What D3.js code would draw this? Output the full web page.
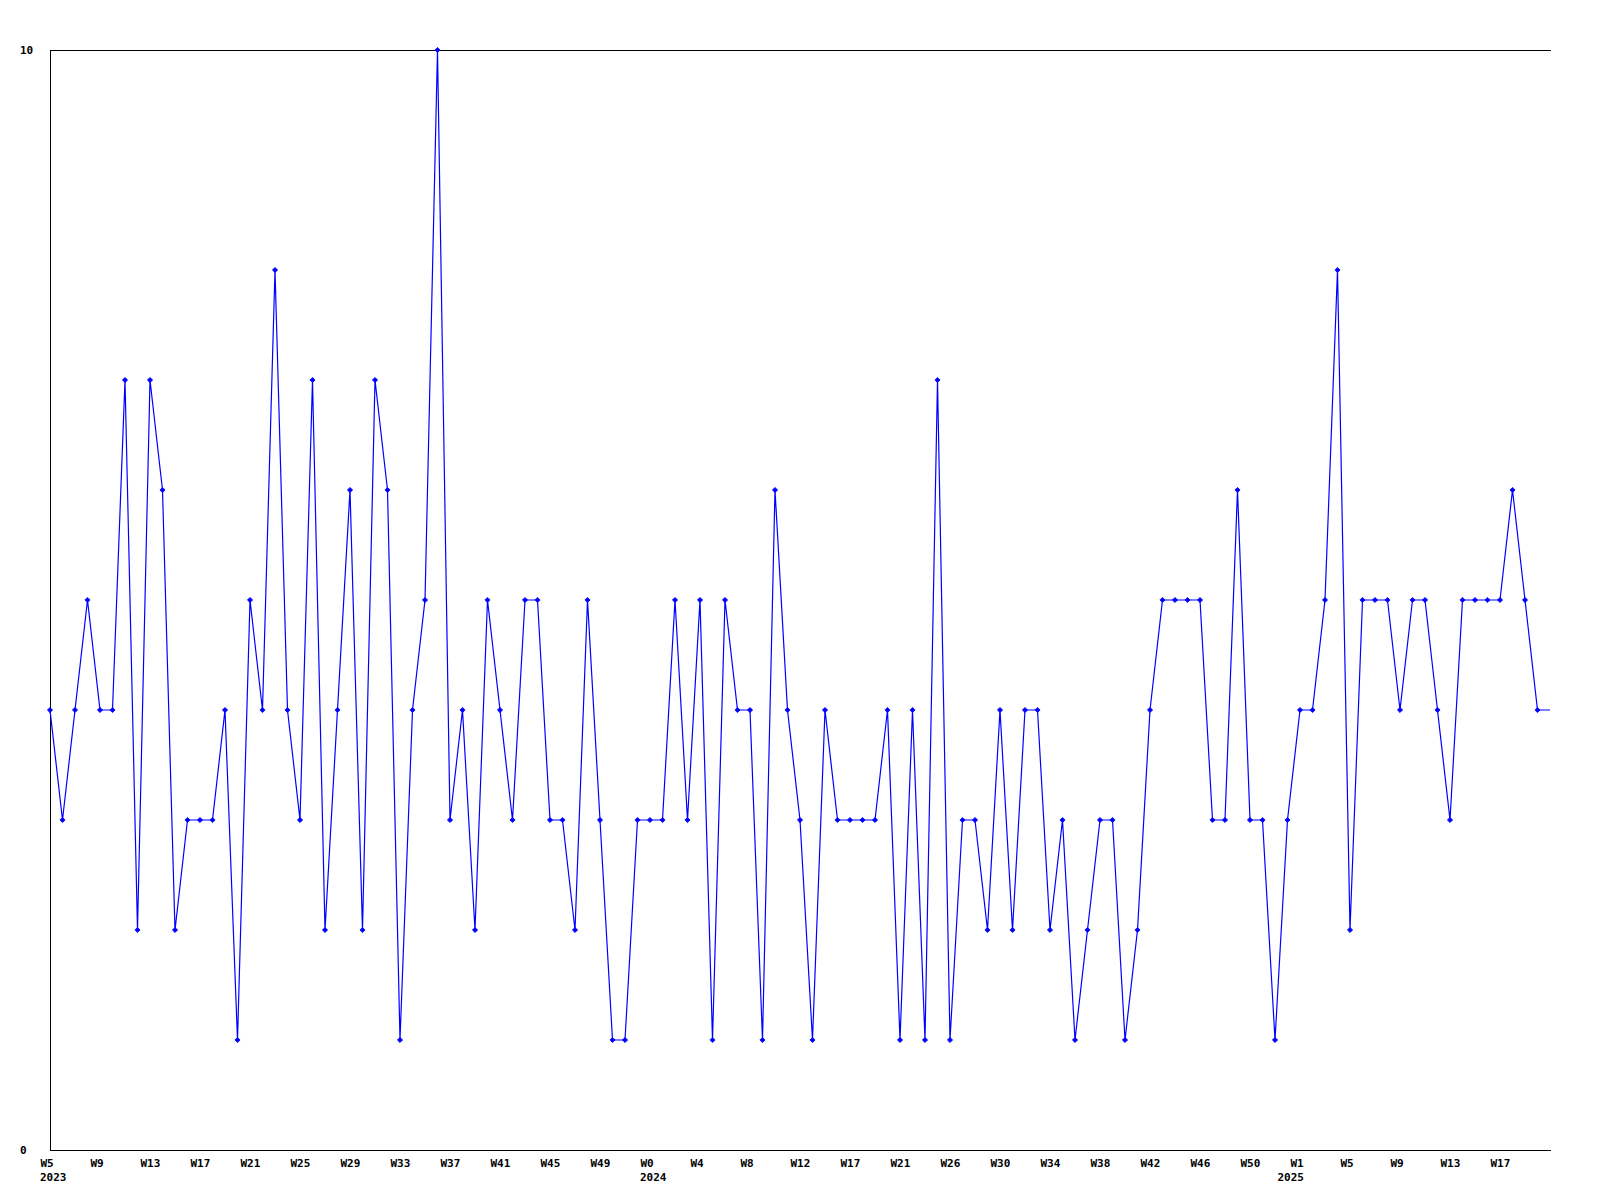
<!DOCTYPE html>
<html>
<head>
<meta charset="utf-8">
<script src="https://cdn.jsdelivr.net/npm/d3@7"></script>
<style>
  html, body { margin: 0; padding: 0; background: #fff; }
  svg { display: block; }
  text { font-family: "DejaVu Sans Mono", "Liberation Mono", monospace; font-weight: bold; font-size: 11px; fill: #000; }
</style>
</head>
<body>
<svg id="chart" width="1600" height="1200"></svg>
<script>
// ---- data ----
const values = [
  4,3,4,5,4,4,7,2,7,6,
  2,3,3,3,4,1,5,4,8,4,
  3,7,2,4,6,2,7,6,1,4,
  5,10,3,4,2,5,4,3,5,5,
  3,3,2,5,3,1,1,3,3,3,
  5,3,5,1,5,4,4,1,6,4,
  3,1,4,3,3,3,3,4,1,4,
  1,7,1,3,3,2,4,2,4,4,
  2,3,1,2,3,3,1,2,4,5,
  5,5,5,3,3,6,3,3,1,3,
  4,4,5,8,2,5,5,5,4,5,
  5,4,3,5,5,5,5,6,5,4,
  4
];
const weekLabels = ["W5","W9","W13","W17","W21","W25","W29","W33","W37","W41","W45","W49",
  "W0","W4","W8","W12","W17","W21","W26","W30","W34","W38","W42","W46","W50",
  "W1","W5","W9","W13","W17"];
const labelEvery = 4;
const yearLabels = ["2023","2024","2025"];
const yearIndex = [0, 48, 99];
const yTickValues = [0, 10];

// ---- layout ----
const mLeft = 50, mRight = 1551, mTop = 50, mBottom = 1150;
const svg = d3.select("#chart");

const x = d3.scaleLinear().domain([0, values.length - 1]).range([mLeft, mLeft + 12.5 * (values.length - 1)]);
const y = d3.scaleLinear().domain([0, 10]).range([mBottom, mTop]);

// top frame line
svg.append("line").attr("shape-rendering", "crispEdges")
  .attr("x1", mLeft).attr("x2", mRight).attr("y1", mTop + 0.5).attr("y2", mTop + 0.5).attr("stroke", "#000");

// left axis
const yAxis = d3.axisLeft(y).tickValues(yTickValues).tickSize(0).tickPadding(0).tickFormat(d3.format("d"));
const ya = svg.append("g").attr("transform", `translate(${mLeft + 0.5},0)`).call(yAxis);
ya.attr("font-family", null).attr("font-size", null);
ya.select(".domain").attr("stroke", "#000").attr("shape-rendering", "crispEdges").attr("d", `M0,${mTop}V${mBottom + 0.5}`);
ya.selectAll(".tick text").attr("x", 20 - (mLeft + 0.5)).attr("text-anchor", "start").attr("dy", "0.35em");

// bottom axis
const tickIdx = weekLabels.map((_, i) => i * labelEvery);
const xAxis = d3.axisBottom(x).tickValues(tickIdx).tickSize(0).tickPadding(0)
  .tickFormat((d, i) => weekLabels[i]);
const xa = svg.append("g").attr("transform", `translate(0,${mBottom + 0.5})`).call(xAxis);
xa.attr("font-family", null).attr("font-size", null);
xa.select(".domain").attr("stroke", "#000").attr("shape-rendering", "crispEdges").attr("d", `M${mLeft},0H${mRight}`);
xa.selectAll(".tick text").attr("text-anchor", "start").attr("x", -10).attr("y", 16).attr("dy", null);
svg.selectAll(".tick line").remove();

// year labels
svg.append("g").selectAll("text").data(yearLabels).join("text")
  .attr("x", (d, i) => x(yearIndex[i]) - 10)
  .attr("y", mBottom + 31)
  .text(d => d);

// line
const line = d3.line().x((d, i) => x(i)).y(d => y(d));
svg.append("path").datum(values)
  .attr("d", line)
  .attr("fill", "none")
  .attr("stroke", "#0000ff")
  .attr("stroke-width", 1.2);

// markers (last point sits on the frame edge, drawn without marker)
const s = 2.6;
svg.append("g").selectAll("path").data(values.slice(0, values.length - 1)).join("path")
  .attr("transform", (d, i) => `translate(${x(i)},${y(d)})`)
  .attr("d", `M0,${-s}L${s},0L0,${s}L${-s},0Z`)
  .attr("fill", "#0000ff")
  .attr("stroke", "#0000ff")
  .attr("stroke-width", 0.8);
</script>
</body>
</html>
